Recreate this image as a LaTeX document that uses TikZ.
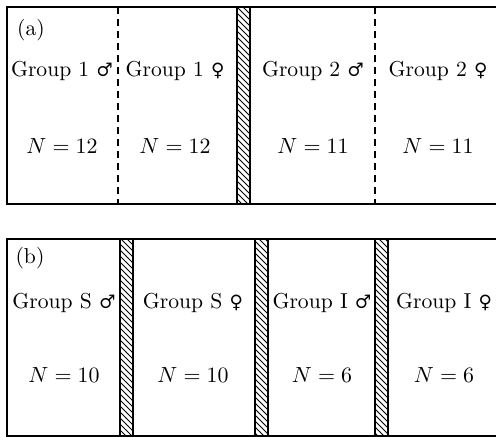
\documentclass[tikz,border=0pt]{standalone}
\usepackage{fontspec}
\newfontfamily\simge{DejaVu Serif}
\usetikzlibrary{patterns}
\newcommand{\erkek}{{\simge\scalebox{0.85}{♂}}}
\newcommand{\disi}{{\simge\scalebox{0.85}{♀}}}

\begin{document}
\begin{tikzpicture}[x=0.5pt, y=-0.5pt, font=\fontsize{10.8}{12}\selectfont,
  cerceve/.style={line width=1.2pt, line join=miter},
  bolme/.style={line width=0.8pt, dash pattern=on 3.5pt off 2.5pt},
  duvar/.style={draw, line width=0.9pt, pattern=north west lines},
  yazi/.style={inner sep=0pt}]
  \useasboundingbox (0,0) rectangle (496,436);

  % ---- (a) deney: iki grup, cinsiyete gore kesikli bolme ----
  \begin{scope}
    \draw[cerceve] (496,7) -- (7,7) -- (7,204) -- (496,204);
    \draw[bolme] (118,7) -- (118,204);
    \draw[bolme] (375,7) -- (375,204);
    \draw[duvar] (237,7) rectangle (250,204);
    \node[yazi] (pa) at (31,30) {(a)};
    \foreach \x/\ad/\n [count=\i] in {62/Group 1 \erkek/12, 175/Group 1 \disi/12,
                                      313/Group 2 \erkek/11, 438/Group 2 \disi/11} {
      \node[yazi] (ga\i) at (\x,71) {\ad};
      \node[yazi] (na\i) at (\x,146) {$N = \n$};
    }
  \end{scope}

  % ---- (b) deney: dort bolme, hepsi duvarla ayrik ----
  \begin{scope}[shift={(0,232)}]
    \draw[cerceve] (496,7) -- (7,7) -- (7,204) -- (496,204);
    \foreach \x in {120,255,375}
      \draw[duvar] (\x,7) rectangle (\x+13,204);
    \node[yazi] (pb) at (30,26) {(b)};
    \foreach \x/\ad/\n [count=\i] in {64/Group S \erkek/10, 193/Group S \disi/10,
                                      322/Group I \erkek/6, 444/Group I \disi/6} {
      \node[yazi] (gb\i) at (\x,71) {\ad};
      \node[yazi] (nb\i) at (\x,143) {$N = \n$};
    }
  \end{scope}
\end{tikzpicture}
\end{document}
